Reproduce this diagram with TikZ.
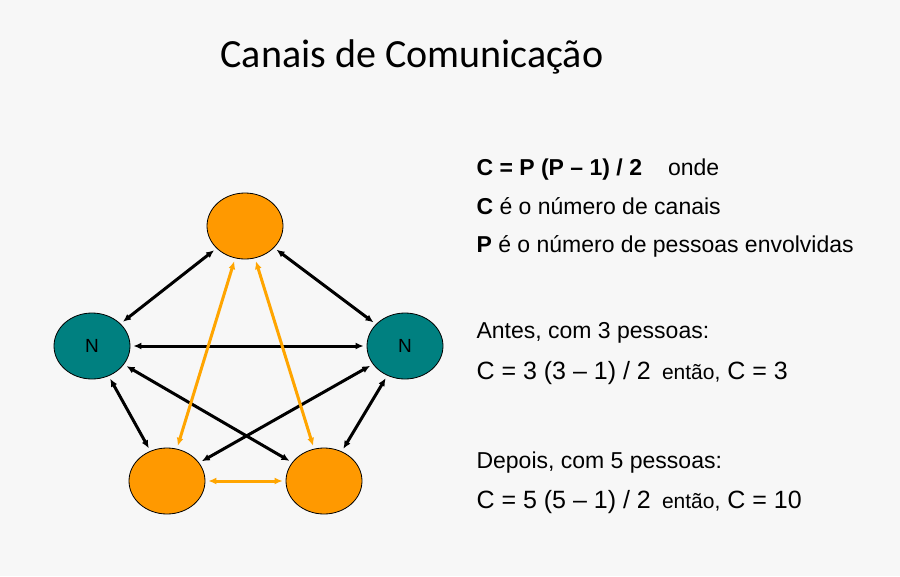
\documentclass[tikz,border=0pt]{standalone}
\usepackage{fontspec}
\setmainfont{Liberation Sans}
\newfontfamily\titlefont{Carlito}
\usetikzlibrary{shapes.geometric,arrows.meta}
\definecolor{orng}{RGB}{255,153,0}
\definecolor{orline}{RGB}{255,165,0}
\definecolor{tl}{RGB}{0,128,128}
\begin{document}
\begin{tikzpicture}[x=1pt,y=-1pt,
  ell/.style={ellipse,minimum width=76pt,minimum height=66pt,inner sep=0pt,draw=black,line width=0.8pt},
  org/.style={ell,fill=orng},
  teal/.style={ell,fill=tl,font=\fontsize{19}{20}\selectfont},
  blk/.style={{Latex[length=8pt,width=7pt]}-{Latex[length=8pt,width=7pt]},line width=3pt,black,shorten <=3pt,shorten >=3pt},
  oar/.style={blk,orline},
  txt/.style={anchor=base west,font=\fontsize{23}{26}\selectfont}]
\fill[black!3] (0,0) rectangle (900,576);
\node[font=\titlefont\fontsize{40}{46}\selectfont] (title) at (412,57) {Canais de Comunicação};
\node[org] (T) at (245,226) {};
\node[teal] (L) at (92,346) {N};
\node[teal] (R) at (405,346) {N};
\node[org] (BL) at (167,481) {};
\node[org] (BR) at (324,481) {};
\draw[blk] (T) -- (L);
\draw[blk] (T) -- (R);
\draw[blk] (L) -- (R);
\draw[blk] (L) -- (BL);
\draw[blk] (R) -- (BR);
\draw[blk] (L) -- (BR);
\draw[blk] (R) -- (BL);
\draw[oar] (T) -- (BL);
\draw[oar] (T) -- (BR);
\draw[oar] (BL) -- (BR);
\node[txt] (t1) at (473,175) {\textbf{C = P (P – 1) / 2}\hspace{26pt}onde};
\node[txt] (t2) at (473,214) {\textbf{C} é o número de canais};
\node[txt] (t3) at (473,252) {\textbf{P} é o número de pessoas envolvidas};
\node[txt] (t4) at (473,338) {Antes, com 3 pessoas:};
\node[txt,font=\fontsize{25}{28}\selectfont] (t5) at (473,379) {C = 3 (3 – 1) / 2 \,{\fontsize{21}{22}\selectfont então,} C = 3};
\node[txt] (t6) at (473,468) {Depois, com 5 pessoas:};
\node[txt,font=\fontsize{25}{28}\selectfont] (t7) at (473,508) {C = 5 (5 – 1) / 2 \,{\fontsize{21}{22}\selectfont então,} C = 10};
\end{tikzpicture}
\end{document}
